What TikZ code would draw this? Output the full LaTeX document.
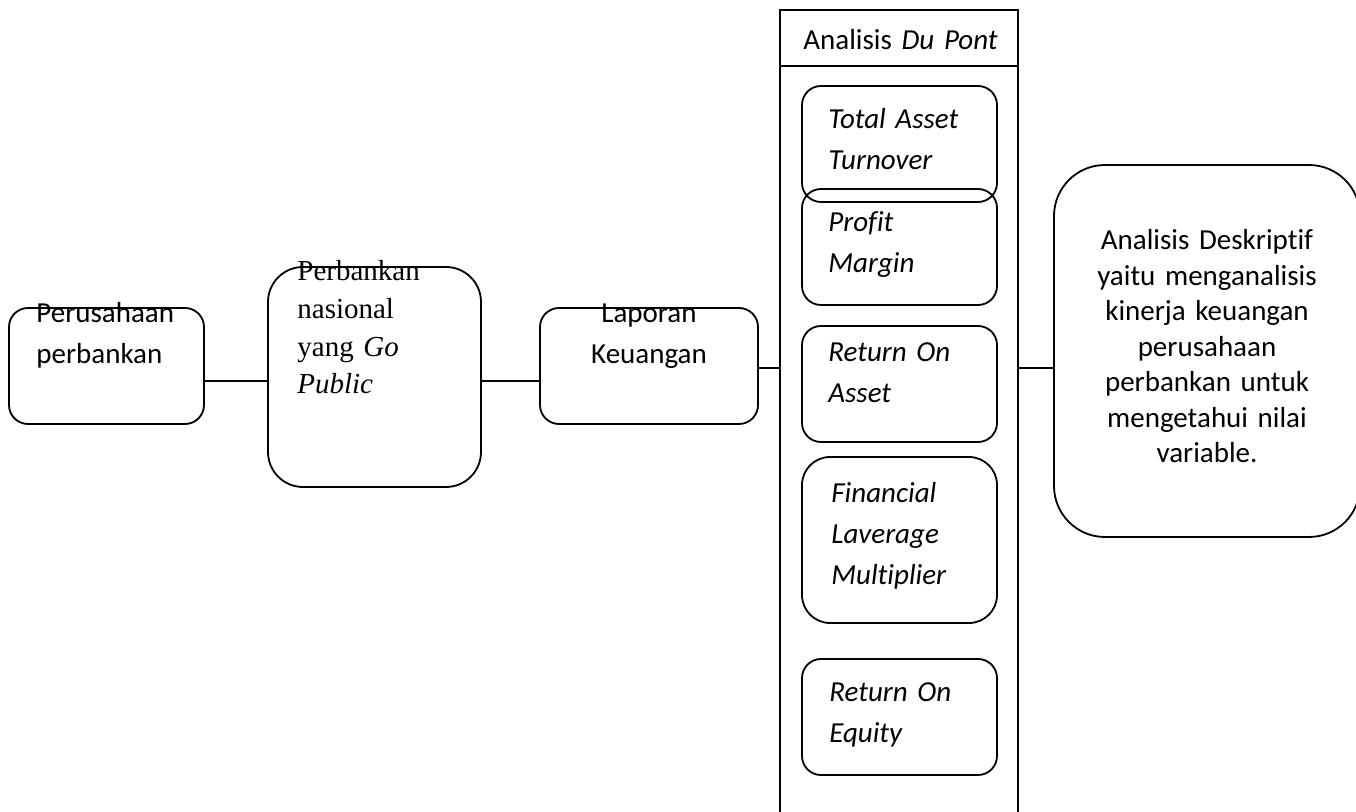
\documentclass[tikz,border=0pt]{standalone}
\usepackage{fontspec}
\setmainfont{Carlito}[Ligatures=CommonOff]
\newfontfamily\timesfont{Liberation Serif}

\begin{document}
\begin{tikzpicture}[x=0.5pt, y=-0.5pt,
    rbox/.style={draw, rectangle, line width=0.9pt, inner sep=0pt, rounded corners=9.5pt},
    sqbox/.style={draw, rectangle, line width=0.9pt, inner sep=0pt},
    boxtext/.style={inner sep=0pt, anchor=base west, text width=110pt, align=left,
        font=\fontsize{14.5}{20.5}\selectfont},
    itemtext/.style={boxtext, font=\fontsize{14.5}{20.5}\selectfont\itshape},
    midtext/.style={boxtext, anchor=base, align=center}]
    \useasboundingbox (0,0) rectangle (1356,812);
    \clip (0,0) rectangle (1356,812);

    % left chain
    \node[rbox, minimum width=97.5pt, minimum height=58pt] (perusahaan) at (106.5,366) {};
    \node[rbox, minimum width=106.5pt, minimum height=110pt, rounded corners=17.5pt] (perbankan) at (374.5,377) {};
    \node[rbox, minimum width=109pt, minimum height=58pt] (laporan) at (649,366) {};
    \node[boxtext] (perusahaan text) at (36,323) {Perusahaan\\perbankan};
    \node[boxtext, font=\timesfont\fontsize{14.5}{18.8}\selectfont] (perbankan text) at (297,281)
        {Perbankan\\nasional\\yang \textit{Go}\\\textit{Public}};
    \node[midtext] (laporan text) at (649,323) {Laporan\\Keuangan};

    % Du Pont column
    \node[sqbox, minimum width=119pt, minimum height=28pt] (dupont) at (899,38) {};
    \node[sqbox, minimum width=119pt, minimum height=382pt] (column) at (899,448) {};
    \node[boxtext] (dupont text) at (803,50) {Analisis \textit{Du Pont}};

    \node[rbox, minimum width=97.5pt, minimum height=58pt] (tat) at (899.5,144) {};
    \node[rbox, minimum width=97.5pt, minimum height=58pt] (pm) at (899.5,247) {};
    \node[rbox, minimum width=97.5pt, minimum height=58pt] (roa) at (899.5,384) {};
    \node[rbox, minimum width=97.5pt, minimum height=83pt, rounded corners=14pt] (flm) at (899.5,540) {};
    \node[rbox, minimum width=97.5pt, minimum height=58pt] (roe) at (899.5,717) {};
    \node[itemtext] (tat text) at (828,129) {Total Asset\\Turnover};
    \node[itemtext] (pm text) at (828,232) {Profit\\Margin};
    \node[itemtext] (roa text) at (828,362) {Return On\\Asset};
    \node[itemtext] (flm text) at (831,503) {Financial\\Laverage\\Multiplier};
    \node[itemtext] (roe text) at (829,702) {Return On\\Equity};

    % right box
    \node[rbox, minimum width=153pt, minimum height=186pt, rounded corners=25.5pt] (deskriptif) at (1207,351) {};
    \node[midtext, text width=140pt, font=\fontsize{14.5}{17.75}\selectfont] (deskriptif text) at (1207,250)
        {Analisis Deskriptif\\yaitu menganalisis\\kinerja keuangan\\perusahaan\\perbankan untuk\\mengetahui nilai\\variable.};

    % connectors
    \draw[line width=0.9pt] ([yshift=-7.5pt]perusahaan.east) -- ([yshift=-7.5pt]perusahaan.east -| perbankan.west);
    \draw[line width=0.9pt] ([yshift=-2pt]perbankan.east) -- ([yshift=-2pt]perbankan.east -| laporan.west);
    \draw[line width=0.9pt] ([yshift=-1pt]laporan.east) -- ([yshift=-1pt]laporan.east -| column.west);
    \draw[line width=0.9pt] ([yshift=-1pt]laporan.east -| column.east) -- ([yshift=-1pt]laporan.east -| deskriptif.west);
\end{tikzpicture}
\end{document}
